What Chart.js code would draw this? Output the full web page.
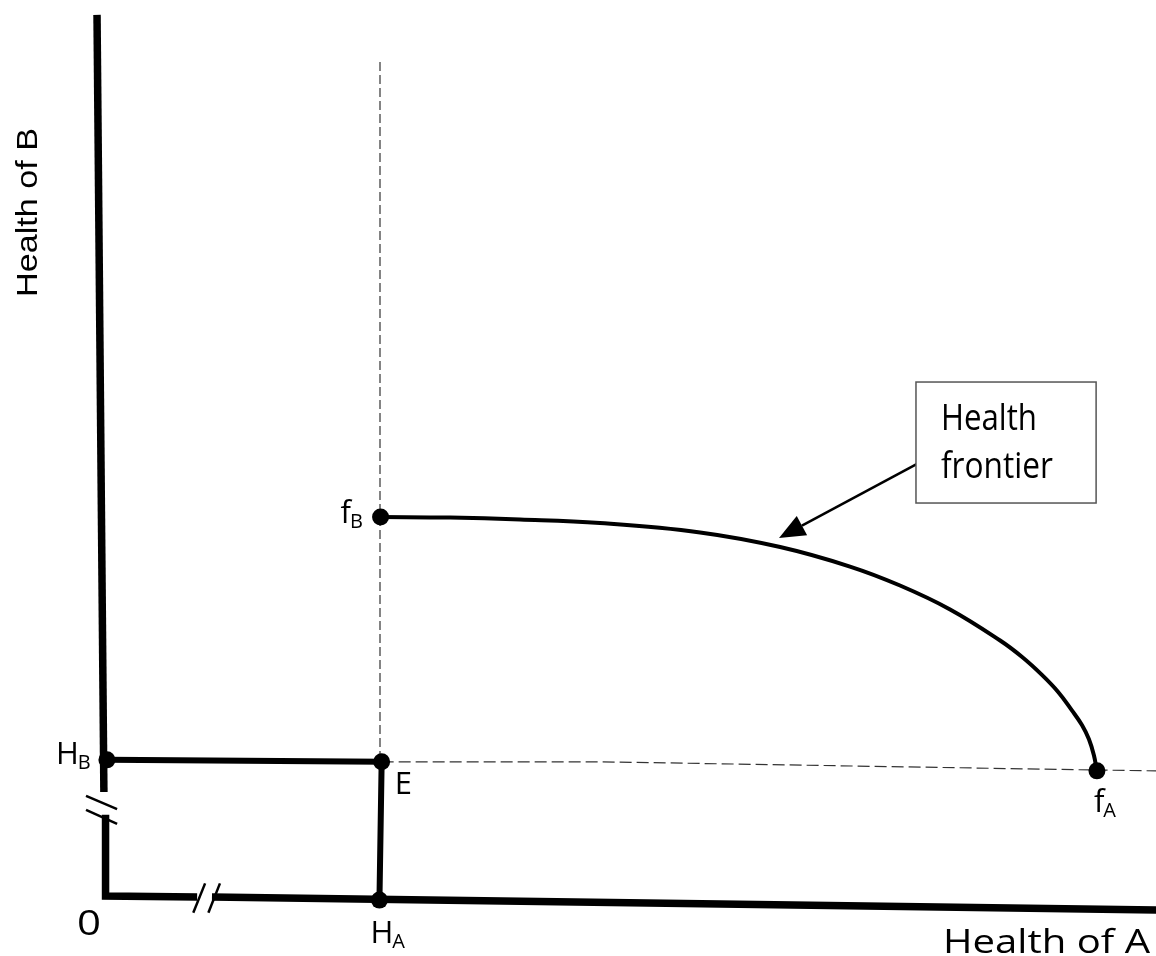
<!DOCTYPE html>
<html>
<head>
<meta charset="utf-8">
<script src="https://cdn.jsdelivr.net/npm/chart.js@4/dist/chart.umd.min.js"></script>
<style>
  html, body { margin: 0; padding: 0; background: #fff; }
  #wrap { width: 1156px; height: 956px; position: relative; }
</style>
</head>
<body>
<div id="wrap"><canvas id="myChart"></canvas></div>
<script>
// health units, origin at O
const X_MIN = -3.818, X_MAX = 38.218;
const Y_MIN = -2.182, Y_MAX = 32.582;

const xTitle = 'Health of A';
const yTitle = 'Health of B';
const boxText = ['Health', 'frontier'];

// labelled points
const pointMain = ['H', 'E', 'H', 'f', 'f'];
const pointSub = ['B', '', 'A', 'B', 'A'];
const pointX = [0.07, 10.06, 9.98, 10.02, 36.07];
const pointY = [4.95, 4.88, -0.15, 13.78, 4.55];

// the frontier from f_B to f_A
const frontierX = [10.02, 12.55, 15.09, 18.0, 21.64, 24.55, 27.09, 28.91, 30.73, 32.55,
  33.35, 34.07, 34.66, 35.16, 35.53, 35.78, 35.96, 36.07];
const frontierY = [13.78, 13.76, 13.69, 13.56, 13.22, 12.69, 11.98, 11.29, 10.42, 9.29,
  8.69, 8.04, 7.42, 6.75, 6.21, 5.7, 5.12, 4.55];

// axes (drawn by hand, with breaks)
const axisBTopX = [-0.29, -0.04];
const axisBTopY = [32.04, 3.78];
const axisLowX = [0.02, 0.02, 3.35];
const axisLowY = [2.95, 0.0, -0.04];
const axisARightX = [3.89, 38.22];
const axisARightY = [-0.04, -0.51];
const breakX = [[-0.69, 0.44], [-0.69, 0.44], [3.21, 3.64], [3.76, 4.18]];
const breakY = [[3.64, 3.16], [3.13, 2.62], [-0.61, 0.46], [-0.61, 0.46]];

// guide lines through E
const guideVX = [10.0, 10.0];
const guideVY = [30.33, 4.88];
const guideHX = [10.06, 17.99, 36.07, 38.22];
const guideHY = [4.88, 4.88, 4.58, 4.55];

// annotation arrow
const arrowX = [29.53, 24.51];
const arrowY = [15.71, 13.02];
const boxX = [29.49, 36.04];
const boxY = [18.69, 14.29];

const pts = (xs, ys) => xs.map((x, i) => ({ x: x, y: ys[i] }));

const line = (data, width, dash) => ({
  data: data,
  showLine: true,
  borderColor: dash ? '#333' : '#000',
  borderWidth: width,
  borderDash: dash || [],
  pointRadius: 0,
  fill: false
});

const FONT = '"Open Sans", "Noto Sans", sans-serif';

const fitText = (ctx, str, x, y, px, width, family) => {
  ctx.font = `${px}px ${family || FONT}`;
  const w = ctx.measureText(str).width;
  ctx.save();
  ctx.translate(x, y);
  ctx.scale(width / w, 1);
  ctx.fillText(str, 0, 0);
  ctx.restore();
};

// pixel offsets of each point label (left of main letter, baseline)
const labelOffset = [[-51, 4], [13, 32], [-9, 43], [-40, 6], [-3, 41]];

const labelPlugin = {
  id: 'labels',
  afterDatasetsDraw(chart) {
    const ctx = chart.ctx;
    const xs = chart.scales.x, ys = chart.scales.y;
    ctx.save();
    ctx.fillStyle = '#000';
    ctx.textAlign = 'left';
    ctx.textBaseline = 'alphabetic';

    // arrow
    const ax0 = xs.getPixelForValue(arrowX[0]), ay0 = ys.getPixelForValue(arrowY[0]);
    const ax1 = xs.getPixelForValue(arrowX[1]), ay1 = ys.getPixelForValue(arrowY[1]);
    const ang = Math.atan2(ay1 - ay0, ax1 - ax0);
    const headL = 26, headW = 11;
    const bx = ax1 - headL * Math.cos(ang), by = ay1 - headL * Math.sin(ang);
    ctx.strokeStyle = '#000';
    ctx.lineWidth = 2.5;
    ctx.beginPath();
    ctx.moveTo(ax0, ay0);
    ctx.lineTo(bx, by);
    ctx.stroke();
    ctx.beginPath();
    ctx.moveTo(ax1, ay1);
    ctx.lineTo(bx + headW * Math.sin(ang), by - headW * Math.cos(ang));
    ctx.lineTo(bx - headW * Math.sin(ang), by + headW * Math.cos(ang));
    ctx.closePath();
    ctx.fill();

    // box
    const l = xs.getPixelForValue(boxX[0]), r = xs.getPixelForValue(boxX[1]);
    const t = ys.getPixelForValue(boxY[0]), b = ys.getPixelForValue(boxY[1]);
    ctx.fillStyle = '#fff';
    ctx.fillRect(l, t, r - l, b - t);
    ctx.strokeStyle = '#555';
    ctx.lineWidth = 1.5;
    ctx.strokeRect(l, t, r - l, b - t);
    ctx.fillStyle = '#000';
    fitText(ctx, boxText[0], l + 25, t + 48, 37, 96);
    fitText(ctx, boxText[1], l + 25, t + 96, 37, 112);

    // point labels
    pointMain.forEach((m, i) => {
      const px = xs.getPixelForValue(pointX[i]) + labelOffset[i][0];
      const py = ys.getPixelForValue(pointY[i]) + labelOffset[i][1];
      ctx.font = `31px ${FONT}`;
      ctx.fillText(m, px, py);
      const w = ctx.measureText(m).width;
      if (pointSub[i]) {
        ctx.font = `20px ${FONT}`;
        ctx.fillText(pointSub[i], px + w - 1, py + 5);
      }
    });

    // origin
    fitText(ctx, '0', xs.getPixelForValue(0) - 28, ys.getPixelForValue(0) + 39, 34, 24);

    // axis titles
    const area = chart.chartArea;
    fitText(ctx, xTitle, area.right - 213, area.bottom - 3, 32, 207);
    ctx.save();
    ctx.translate(area.left + 37, area.top + 297);
    ctx.rotate(-Math.PI / 2);
    fitText(ctx, yTitle, 0, 0, 29, 169, '"Liberation Sans", Arial, sans-serif');
    ctx.restore();

    ctx.restore();
  }
};

const setup = () => {
  const ctxt = document.getElementById('myChart').getContext('2d');

  const datasets = [
    {
      data: pts(pointX, pointY),
      showLine: false,
      pointRadius: 8.5,
      pointBackgroundColor: '#000',
      pointBorderWidth: 0
    },
    line(pts(frontierX, frontierY), 4),
    line(pts([pointX[0], pointX[1], pointX[2]], [pointY[0], pointY[1], pointY[2]]), 6),
    line(pts(axisBTopX, axisBTopY), 7.5),
    line(pts(axisLowX, axisLowY), 7.5),
    line(pts(axisARightX, axisARightY), 7.5),
    line(pts(guideVX, guideVY), 1.2, [9, 4]),
    line(pts(guideHX, guideHY), 1.2, [12, 5])
  ];
  breakX.forEach((bx, i) => datasets.push(line(pts(bx, breakY[i]), 2.5)));
  datasets[1].tension = 0.4;

  new Chart(ctxt, {
    type: 'scatter',
    data: { datasets: datasets },
    options: {
      responsive: true,
      maintainAspectRatio: false,
      animation: false,
      layout: { padding: 0, autoPadding: false },
      plugins: { legend: { display: false }, tooltip: { enabled: false } },
      scales: {
        x: { type: 'linear', display: false, min: X_MIN, max: X_MAX },
        y: { type: 'linear', display: false, min: Y_MIN, max: Y_MAX }
      }
    },
    plugins: [labelPlugin]
  });
};

window.addEventListener('DOMContentLoaded', setup);
</script>
</body>
</html>
